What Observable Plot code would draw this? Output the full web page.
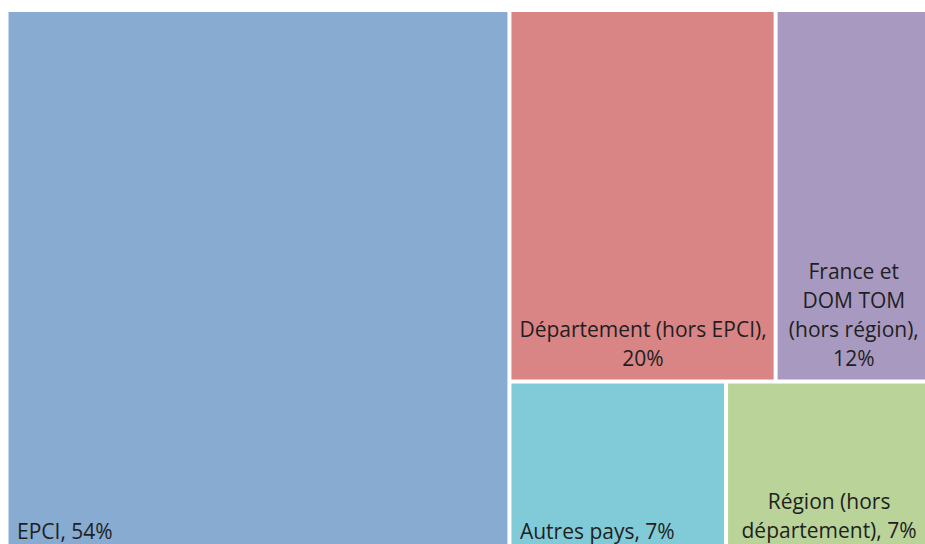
<!DOCTYPE html>
<html>
<head>
<meta charset="utf-8">
<script src="https://cdn.jsdelivr.net/npm/d3@7"></script>
<script src="https://cdn.jsdelivr.net/npm/@observablehq/plot@0.6"></script>
<style>
  html, body { margin: 0; padding: 0; background: #fff; overflow: hidden; }
  #chart svg { display: block; }
</style>
</head>
<body>
<div id="chart"></div>
<script>
// Data
const names = ["EPCI", "Département (hors EPCI)", "France et DOM TOM (hors région)", "Autres pays", "Région (hors département)"];
const labels = ["EPCI, 54%", "Département (hors EPCI),\n20%", "France et\nDOM TOM\n(hors région),\n12%", "Autres pays, 7%", "Région (hors\ndépartement), 7%"];
const values = [54.4, 19.7, 11.5, 7.4, 7.0];
const groups = ["", "haut", "haut", "bas", "bas"];
const colors = ["#87abd1", "#d98485", "#a899c0", "#81cbd8", "#b9d399"];

// Build nested hierarchy: EPCI | (haut / bas)
const leaf = i => ({name: names[i], label: labels[i], value: values[i]});
const rootData = {
  name: "root",
  children: [
    leaf(0),
    {name: "reste", children: ["haut", "bas"].map(g => ({
      name: g,
      children: names.map((_, i) => i).filter(i => groups[i] === g).map(leaf)
    }))}
  ]
};
const root = d3.hierarchy(rootData).sum(d => d.value || 0);
d3.treemap().tile(d3.treemapSliceDice).size([1, 1])(root);
const leaves = root.leaves().map(d => ({...d.data, x0: d.x0, x1: d.x1, y0: d.y0, y1: d.y1}));

const font = "'Open Sans', Lato, sans-serif";
const single = leaves.filter(d => !d.label.includes("\n"));
const multi = leaves.filter(d => d.label.includes("\n"));

const chart = Plot.plot({
  width: 925,
  height: 544,
  margin: 0,
  style: {overflow: "hidden", background: "#fff"},
  x: {domain: [0, 1], range: [6.5, 931], axis: null},
  y: {domain: [0, 1], range: [10, 553], axis: null},
  color: {domain: names, range: colors},
  marks: [
    Plot.rect(leaves, {x1: "x0", x2: "x1", y1: "y0", y2: "y1", fill: "name", inset: 2}),
    Plot.text(single, {x: "x0", y: "y1", text: "label", textAnchor: "start", lineAnchor: "bottom",
      dx: 10, dy: -15, fontSize: 21, fontFamily: font, fill: "#1f1f1f"}),
    Plot.text(multi, {x: d => (d.x0 + d.x1) / 2, y: "y1", text: "label", textAnchor: "middle", lineAnchor: "bottom",
      lineHeight: 1.38, dy: -16, fontSize: 21, fontFamily: font, fill: "#1f1f1f"})
  ]
});
document.getElementById("chart").appendChild(chart);
</script>
</body>
</html>
